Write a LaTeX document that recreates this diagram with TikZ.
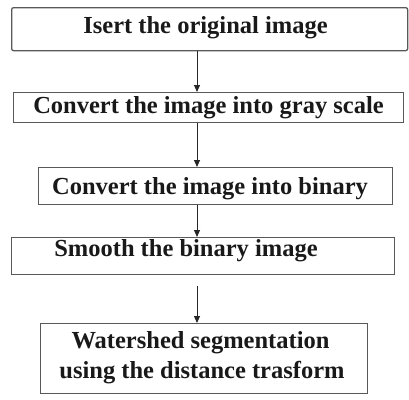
\documentclass[tikz,border=0pt]{standalone}
\usepackage{fontspec}
\setmainfont{Liberation Serif}
\usetikzlibrary{arrows.meta}
\begin{document}
\begin{tikzpicture}[x=1pt,y=-1pt,
  stepbox/.style={draw=black!65,line width=1.3pt,inner sep=0pt,anchor=north west},
  lbl/.style={inner sep=0pt,anchor=base,font=\fontsize{24.5}{30}\selectfont\bfseries,text=black!90},
  arr/.style={draw=black!85,line width=1pt,-{Triangle[length=7pt,width=6pt]}}]
\useasboundingbox (0,0) rectangle (409,399);
\node[stepbox,rounded corners=2pt,minimum width=396pt,minimum height=43pt] (b1) at (11,7) {};
\node[stepbox,minimum width=390pt,minimum height=30pt] (b2) at (13,92) {};
\node[stepbox,minimum width=354pt,minimum height=37pt] (b3) at (38,167) {};
\node[stepbox,minimum width=383pt,minimum height=37pt] (b4) at (11,237) {};
\node[stepbox,minimum width=327pt,minimum height=70pt] (b5) at (40,323) {};
\node[lbl] (t1) at (205.5,33) {Isert the original image};
\node[lbl] (t2) at (208.5,113) {Convert the image into gray scale};
\node[lbl] (t3) at (210,194) {Convert the image into binary};
\node[lbl] (t4) at (186,256) {Smooth the binary image};
\node[lbl] (t5a) at (200.5,348) {Watershed segmentation};
\node[lbl] (t5b) at (202,378) {using the distance trasform};
\coordinate (ax) at (197,0);
\draw[arr] (b1.south -| ax) -- (b2.north -| ax);
\draw[arr] (b2.south -| ax) -- (b3.north -| ax);
\draw[arr] (b3.south -| ax) -- (b4.north -| ax);
\draw[arr,shorten <=11pt] (b4.south -| ax) -- (b5.north -| ax);
\end{tikzpicture}
\end{document}
